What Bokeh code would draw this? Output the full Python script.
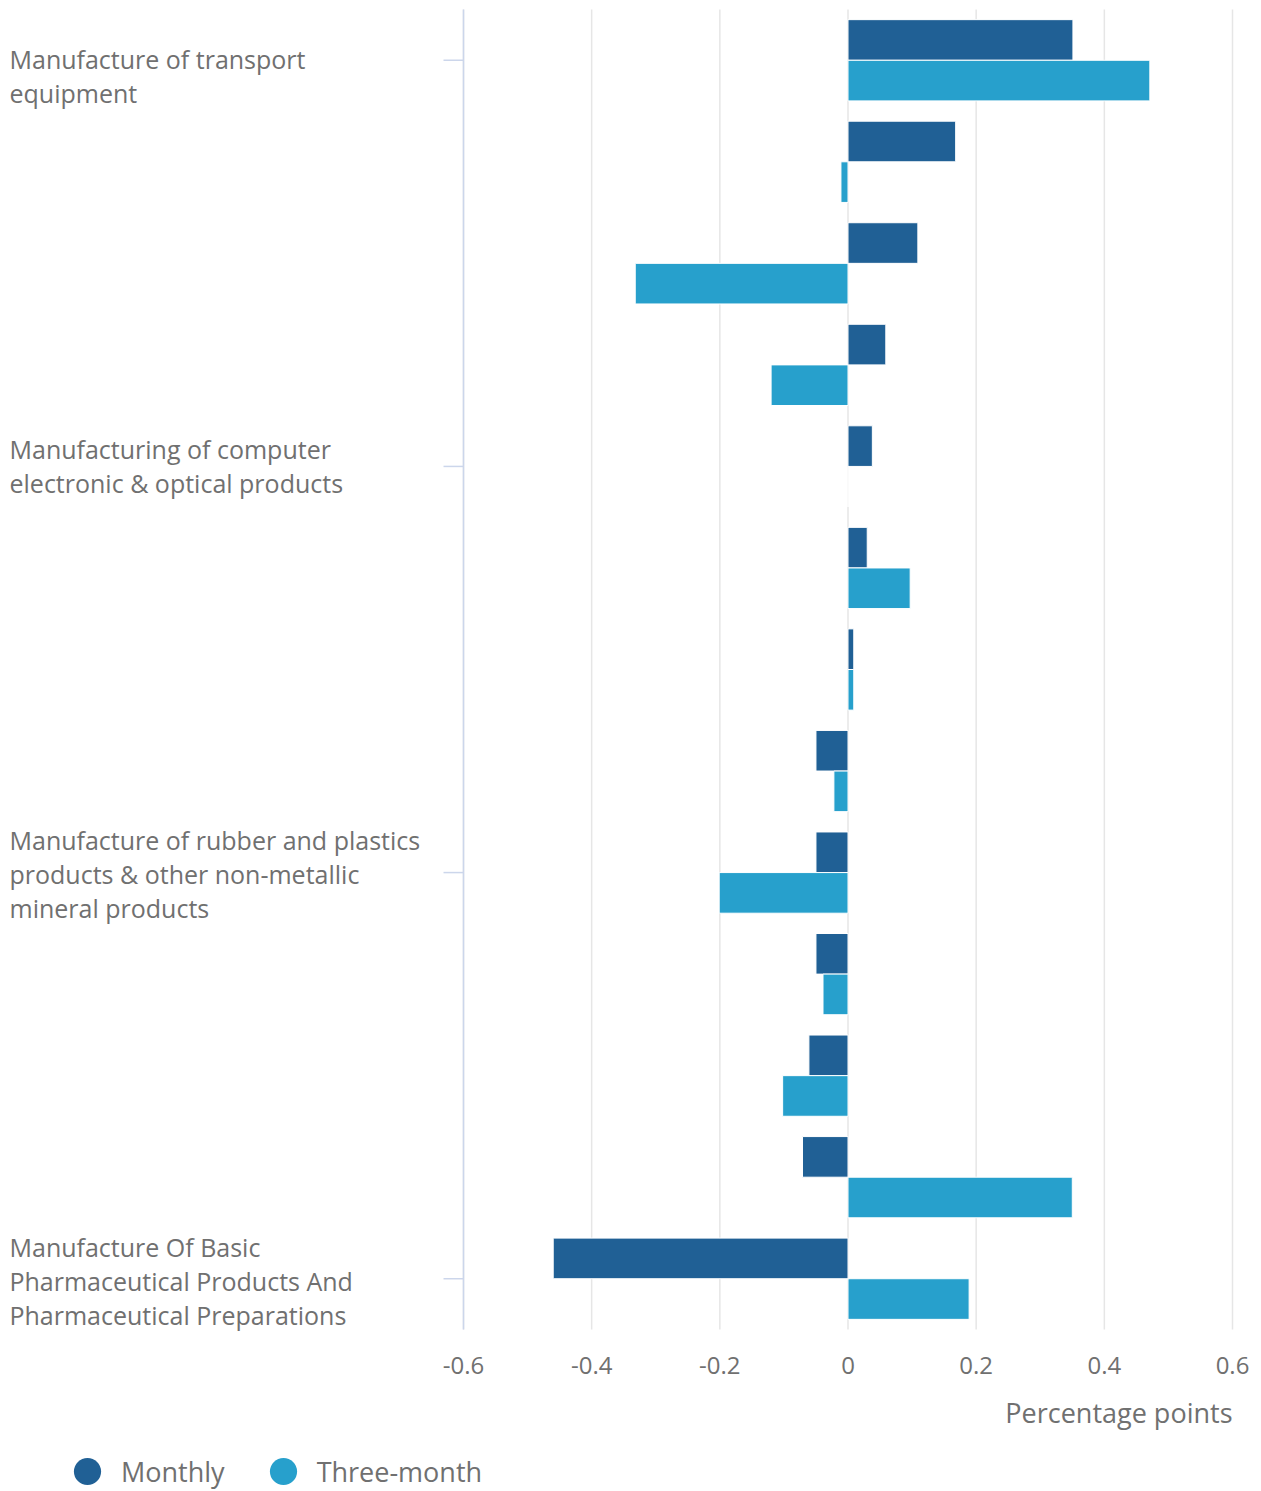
from bokeh.plotting import figure
from bokeh.models import Range1d, Label, Legend, LegendItem, ColumnDataSource
from bokeh.core.properties import value
from bokeh.transform import dodge
from bokeh.embed import file_html
from bokeh.resources import INLINE

# ---------------- data ----------------
categories = [
    "Manufacture of transport\nequipment",
    "", "", "",
    "Manufacturing of computer\nelectronic & optical products",
    "", "", "",
    "Manufacture of rubber and plastics\nproducts & other non-metallic\nmineral products",
    "", "", "",
    "Manufacture Of Basic\nPharmaceutical Products And\nPharmaceutical Preparations",
]
monthly = [0.351, 0.168, 0.109, 0.059, 0.038, 0.030, 0.009,
           -0.050, -0.050, -0.050, -0.061, -0.071, -0.460]
three_month = [0.471, -0.011, -0.332, -0.120, 0.0, 0.097, 0.009,
               -0.022, -0.201, -0.039, -0.102, 0.350, 0.189]
series_names = ["Monthly", "Three-month"]
x_ticks = [-0.6, -0.4, -0.2, 0, 0.2, 0.4, 0.6]
x_tick_labels = ["-0.6", "-0.4", "-0.2", "0", "0.2", "0.4", "0.6"]
x_axis_title = "Percentage points"

# ---------------- style / layout ----------------
FONT = "Open Sans"
TEXT = "#707070"
COLORS = ["#206095", "#27a0cc"]
GRID = "#e6e6e6"
AXIS = "#ccd6eb"
W, H = 1261, 1491
PL, PR, PT, PB = 463, 1232, 9, 1329     # plot area in canvas pixels
TICK_LEN = 20
label_y_offsets = [16, 0, 1, 2]

n = len(categories)
x_min, x_max = x_ticks[0], x_ticks[-1]
ppx = (PR - PL) / (x_max - x_min)
ppy = (PB - PT) / n
x_range = Range1d(x_min - PL / ppx, x_max + (W - PR) / ppx)
y_range = Range1d(n - 0.5 + (H - PB) / ppy, -0.5 - PT / ppy)

p = figure(width=W, height=H, output_backend="svg", toolbar_location=None,
           x_range=x_range, y_range=y_range,
           x_axis_location=None, y_axis_location=None,
           min_border=0)
p.outline_line_color = None
p.grid.visible = False
p.background_fill_color = "white"
p.border_fill_color = "white"

y_lo, y_hi = -0.5, n - 0.5

# vertical grid lines
p.segment(x0=x_ticks, x1=x_ticks, y0=[y_lo] * len(x_ticks),
          y1=[y_hi] * len(x_ticks), line_color=GRID, line_width=1.5)

# y axis line and ticks
labelled = [i for i, c in enumerate(categories) if c]
p.segment(x0=[x_min], x1=[x_min], y0=[y_lo], y1=[y_hi],
          line_color=AXIS, line_width=1.5)
p.segment(x0=[x_min - TICK_LEN / ppx] * len(labelled),
          x1=[x_min] * len(labelled), y0=labelled, y1=labelled,
          line_color=AXIS, line_width=1.5)

# bars
src = ColumnDataSource(dict(idx=list(range(n)), monthly=monthly,
                            three_month=three_month))
p.hbar(y=dodge("idx", -0.2, range=p.y_range), left=0, right="monthly",
       height=0.4, fill_color=COLORS[0], line_color="white", line_width=1,
       source=src)
p.hbar(y=dodge("idx", 0.2, range=p.y_range), left=0, right="three_month",
       height=0.4, fill_color=COLORS[1], line_color="white", line_width=1,
       source=src)

# x tick labels
p.text(x=x_ticks, y=[y_hi] * len(x_ticks), text=x_tick_labels,
       y_offset=36, text_align="center", text_baseline="middle",
       text_font=value(FONT), text_font_size="24px", text_color=TEXT)

# category labels
p.text(x=[x_range.start] * len(labelled), y=labelled,
       text=[categories[i] for i in labelled], x_offset=9,
       y_offset=label_y_offsets, text_align="left", text_baseline="middle",
       text_font=value(FONT), text_font_size="25px", text_line_height=1.0,
       text_color=TEXT)

# axis title
p.add_layout(Label(x=x_max, y=y_hi, y_offset=-83, text=x_axis_title,
                   text_align="right", text_baseline="middle",
                   text_font=FONT, text_font_size="27px", text_color=TEXT))

# legend (markers drawn only in the legend)
nan = float("nan")
dummies = [p.scatter(x=[nan], y=[nan], marker="circle", size=27,
                     fill_color=c, line_color=None) for c in COLORS]
legend = Legend(items=[LegendItem(label=s, renderers=[r])
                       for s, r in zip(series_names, dummies)],
                orientation="horizontal", location=(53, -14),
                glyph_width=68, glyph_height=68, label_standoff=0,
                spacing=24, padding=0, margin=0, border_line_color=None,
                background_fill_alpha=0, label_text_font=FONT,
                label_text_font_size="27px", label_text_color=TEXT,
                label_text_baseline="middle")
p.add_layout(legend)

open("out.html", "w").write(file_html(p, INLINE))
